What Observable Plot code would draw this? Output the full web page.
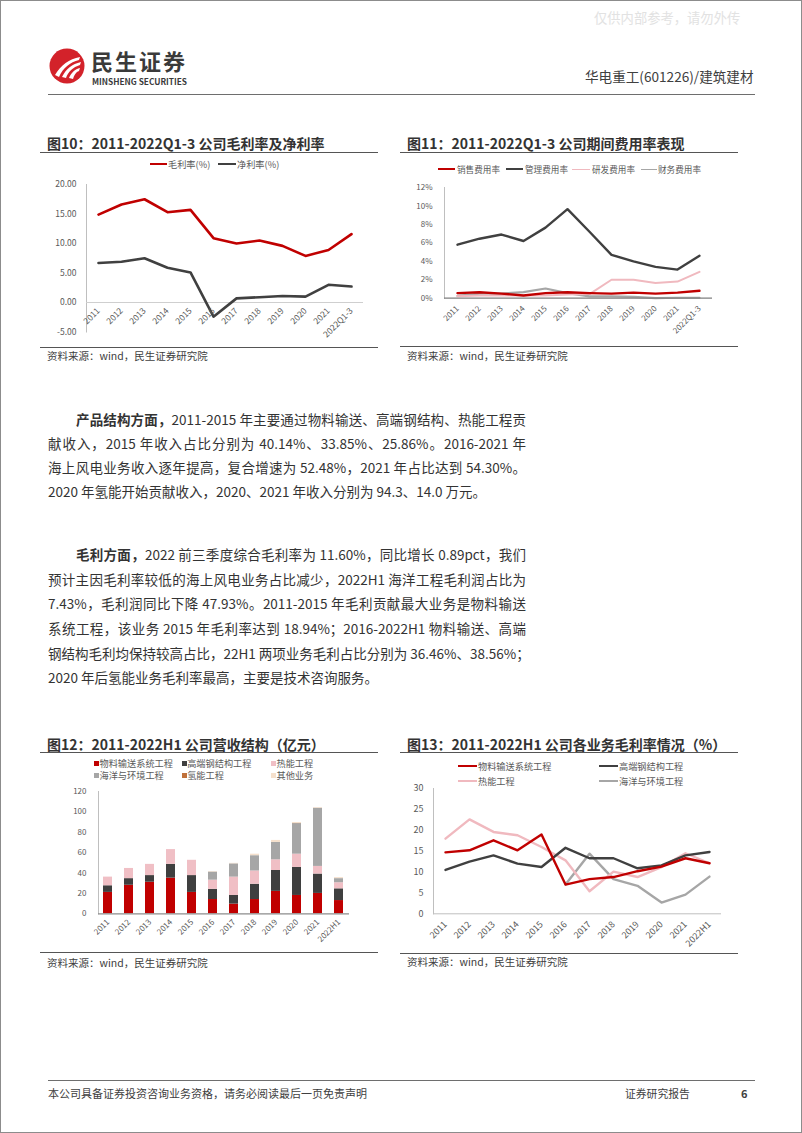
<!DOCTYPE html>
<html><head><meta charset="utf-8">
<script src="https://cdn.jsdelivr.net/npm/d3@7"></script>
<script src="https://cdn.jsdelivr.net/npm/@observablehq/plot@0.6"></script>
<style>
html,body{margin:0;padding:0}
body{width:802px;height:1133px;position:relative;background:#fff;font-family:"Noto Sans CJK SC","Noto Sans",sans-serif;color:#404040;overflow:hidden}
.a{position:absolute;white-space:nowrap;line-height:1}
.ttl{font-weight:bold;font-size:14px;color:#333;font-family:"Noto Sans CJK SC",sans-serif}
.hr{position:absolute;height:0;border-top:1.5px solid #555}
.src{font-size:10.5px;color:#404040}
.lg{font-size:9.2px;color:#595959}
.body{position:absolute;font-size:13.5px;line-height:1;color:#333;white-space:nowrap;text-align:justify;text-align-last:justify}
.body.last{text-align:left;text-align-last:left}
.sw{position:absolute;height:0}
.sq{position:absolute;width:5px;height:5px}
svg{overflow:visible}
</style></head>
<body>
<script>
// ---------- DATA ----------
const years10 = ["2011","2012","2013","2014","2015","2016","2017","2018","2019","2020","2021","2022Q1-3"];
const grossMargin = [14.9,16.6,17.5,15.3,15.7,10.9,10.0,10.5,9.6,7.9,8.9,11.6];
const netMargin = [6.7,6.9,7.5,5.9,5.1,-2.4,0.7,0.9,1.1,1.0,3.0,2.7];
const ticks10 = [-5,0,5,10,15,20];

const years11 = years10;
const salesRate = [0.55,0.65,0.5,0.3,0.55,0.65,0.55,0.5,0.6,0.5,0.6,0.8];
const adminRate = [5.8,6.45,6.9,6.2,7.65,9.65,7.2,4.7,4.0,3.4,3.1,4.6];
const rdRate = [0.2,0.3,0.3,0.3,0.3,0.4,0.45,2.0,2.0,1.65,1.8,2.85];
const finRate = [0.25,0.5,0.5,0.65,1.05,0.55,0.2,0.2,0.15,0.0,0.05,0.05];
const ticks11 = [0,2,4,6,8,10,12];

const years12 = ["2011","2012","2013","2014","2015","2016","2017","2018","2019","2020","2021","2022H1"];
const series12 = ["物料输送系统工程","高端钢结构工程","热能工程","海洋与环境工程","氢能工程","其他业务"];
const conveying = [21,28,31,35,21,14,9.5,14,22,18,20,13];
const steel = [6.5,6.5,6.5,13.5,16.5,10,8.5,15,20.5,27.5,19,11.5];
const thermal = [8.5,10,11,14.5,15,9,18,13,10.5,13,7.5,6];
const marine = [0,0,0,0,0,8,13,15,17,30,57,4];
const hydrogen = [0,0,0,0,0,0,0,0,0,0.1,0.1,0];
const otherBiz = [0,0,0,0,0,0.5,0.5,1.5,2,1,0.5,1];
const ticks12 = [0,20,40,60,80,100,120];

const years13 = years12;
const gmConveying = [14.7,15.2,17.6,15.2,19.0,7.0,8.3,8.8,10.2,11.3,13.3,12.1];
const gmSteel = [10.5,12.5,14.0,12.0,11.2,15.8,13.3,13.3,10.9,11.6,14.0,14.8];
const gmThermal = [18.0,22.6,19.6,18.8,16.0,12.8,5.4,10.1,8.8,11.2,14.5,12.1];
const gmMarine = [null,null,null,null,null,7.0,14.4,8.3,6.7,2.7,4.6,8.9];
const ticks13 = [0,5,10,15,20,25,30];

// ---------- COLORS / HELPERS ----------
const RED="#C00000", DARK="#404040", PINK="#F0B9BF", GRAY="#A6A6A6";
const FONT='"Noto Sans CJK SC","Noto Sans",sans-serif';
function put(html, cls, left, top, extra){
  const d=document.createElement("div"); d.className=cls; d.innerHTML=html;
  d.style.left=left+"px"; d.style.top=top+"px";
  if(extra) Object.assign(d.style, extra);
  document.body.appendChild(d); return d;
}
function hr(x1,x2,y,color,w){ const d=put("","hr",x1,y,{width:(x2-x1)+"px"}); if(color) d.style.borderTopColor=color; if(w) d.style.borderTopWidth=w+"px"; }
function swatch(x,y,w,color,th){ put("","sw",x,y-th/2,{width:w+"px",borderTop:th+"px solid "+color}); }
function sq(x,y,color){ put("","sq",x,y-2.5,{background:color}); }
function mount(svg,left,top){ svg.style.position="absolute"; svg.style.left=left+"px"; svg.style.top=top+"px"; document.body.appendChild(svg); }
function centerText(t,cls,left,cy,extra){ const d=put(t,cls,left,0,extra); d.style.top=(cy - d.offsetHeight/2)+"px"; return d; }

// ---------- PAGE FRAME / HEADER ----------
put("","a",0,0,{width:"802px",height:"1133px",boxSizing:"border-box",border:"1px solid #8c8c8c"});
centerText("仅供内部参考，请勿外传","a",594,17,{fontSize:"13.3px",color:"#e2e2e2"});
put('<svg width="36" height="36" viewBox="0 0 36 36"><circle cx="18" cy="18" r="17.5" fill="#D3222A"/><path d="M6 27 C12 17,20 11,31 9 L30 12 C21 14,14 20,10 29 Z" fill="#fff"/><path d="M13 29 C17 21,23 16,32 14 L31 17 C24 19,19 24,17 30 Z" fill="#fff"/><path d="M20 30 C22 25,26 21,31 20 L30 23 C27 24,25 27,24 31 Z" fill="#fff"/></svg>',"a",49,48);
centerText("民生证券","a",91,60,{fontSize:"22px",fontWeight:"bold",color:"#3a3a3a",letterSpacing:"2px",lineHeight:"22px",height:"22px"});
centerText("MINSHENG SECURITIES","a",92,81,{fontSize:"8.3px",fontWeight:"bold",color:"#3a3a3a",lineHeight:"9px",height:"9px"});
centerText("华电重工(601226)/建筑建材","a",585,77,{fontSize:"13.6px",color:"#404040"});
hr(48,755,94,"#6e6e6e",1.5);

// ---------- FIG 10 ----------
centerText("图10：2011-2022Q1-3 公司毛利率及净利率","a ttl",47,143);
hr(40,378,152,"#555",1.3);
swatch(150,164.3,17,RED,2.5); centerText("毛利率(%)","a lg",168,164.3);
swatch(218,164.3,18,DARK,2.5); centerText("净利率(%)","a lg",237,164.3);
const d10 = years10.map((x,i)=>({x, g: grossMargin[i], n: netMargin[i]}));
mount(Plot.plot({
  width:340,height:200,marginLeft:46,marginRight:17,marginTop:24,marginBottom:28.5,
  style:{fontFamily:FONT,fontSize:"8.5px",color:"#595959",background:"transparent",overflow:"visible"},
  x:{type:"point",domain:years10,padding:0.5,axis:null},
  y:{domain:[-5,20]},
  marks:[
    Plot.frame({anchor:"left",stroke:"#bfbfbf"}),
    Plot.ruleY([0],{stroke:"#cfcfcf"}),
    Plot.axisY({ticks:ticks10,tickFormat:d=>d.toFixed(2),tickSize:0,tickPadding:10,label:null,fill:"#595959"}),
    Plot.line(d10,{x:"x",y:"g",stroke:RED,strokeWidth:2.6}),
    Plot.line(d10,{x:"x",y:"n",stroke:DARK,strokeWidth:2.6}),
    Plot.text(years10,{x:d=>d,y:0,text:d=>d,rotate:-45,textAnchor:"end",lineAnchor:"middle",dy:7,fill:"#595959"})
  ]
}),40,160);
hr(40,378,346.5,"#555",1.3);
centerText("资料来源：wind，民生证券研究院","a src",47,356);

// ---------- FIG 11 ----------
centerText("图11：2011-2022Q1-3 公司期间费用率表现","a ttl",407,143);
hr(400,738,152,"#555",1.3);
swatch(438,169.3,17,RED,2.2); centerText("销售费用率","a lg",457,169.3,{fontSize:"8.6px"});
swatch(506,169.3,17,DARK,2.2); centerText("管理费用率","a lg",525,169.3,{fontSize:"8.6px"});
swatch(572,169.3,18,PINK,1.5); centerText("研发费用率","a lg",592,169.3,{fontSize:"8.6px"});
swatch(641,169.3,16,GRAY,1.5); centerText("财务费用率","a lg",658,169.3,{fontSize:"8.6px"});
const d11 = years11.map((x,i)=>({x, s: salesRate[i], a: adminRate[i], r: rdRate[i], f: finRate[i]}));
mount(Plot.plot({
  width:340,height:190,marginLeft:44,marginRight:28,marginTop:22,marginBottom:57.3,
  style:{fontFamily:FONT,fontSize:"8px",color:"#595959",background:"transparent",overflow:"visible"},
  x:{type:"point",domain:years11,padding:0.5,axis:null},
  y:{domain:[0,12]},
  marks:[
    Plot.frame({anchor:"left",stroke:"#bfbfbf"}),
    Plot.axisY({ticks:ticks11,tickFormat:d=>d+"%",tickSize:0,tickPadding:12,label:null,fill:"#595959"}),
    Plot.line(d11,{x:"x",y:"f",stroke:GRAY,strokeWidth:2.2}),
    Plot.line(d11,{x:"x",y:"r",stroke:PINK,strokeWidth:2}),
    Plot.line(d11,{x:"x",y:"a",stroke:DARK,strokeWidth:2.4}),
    Plot.line(d11,{x:"x",y:"s",stroke:RED,strokeWidth:2.4}),
    Plot.ruleY([0],{stroke:"#7f7f7f",strokeWidth:1.2}),
    Plot.text(years11,{x:d=>d,frameAnchor:"bottom",text:d=>d,rotate:-45,textAnchor:"end",lineAnchor:"middle",dy:9,fill:"#595959"})
  ]
}),400,165);
hr(400,738,345.5,"#555",1.3);
centerText("资料来源：wind，民生证券研究院","a src",407,356);

// ---------- BODY TEXT ----------
const para1 = [
  "<b>产品结构方面，</b>2011-2015 年主要通过物料输送、高端钢结构、热能工程贡",
  "献收入，2015 年收入占比分别为 40.14%、33.85%、25.86%。2016-2021 年",
  "海上风电业务收入逐年提高，复合增速为 52.48%，2021 年占比达到 54.30%。",
  "2020 年氢能开始贡献收入，2020、2021 年收入分别为 94.3、14.0 万元。"
];
const para2 = [
  "<b>毛利方面，</b>2022 前三季度综合毛利率为 11.60%，同比增长 0.89pct，我们",
  "预计主因毛利率较低的海上风电业务占比减少，2022H1 海洋工程毛利润占比为",
  "7.43%，毛利润同比下降 47.93%。2011-2015 年毛利贡献最大业务是物料输送",
  "系统工程，该业务 2015 年毛利率达到 18.94%；2016-2022H1 物料输送、高端",
  "钢结构毛利均保持较高占比，22H1 两项业务毛利占比分别为 36.46%、38.56%；",
  "2020 年后氢能业务毛利率最高，主要是技术咨询服务。"
];
function para(lines, y0, step){
  lines.forEach((t,i)=>{
    const last = i===lines.length-1;
    const left = i===0?76:48;
    const d = put(t, "body"+(last?" last":""), left, 0, {width:(526-left)+"px"});
    d.style.top = (y0 + i*step - d.offsetHeight/2)+"px";
  });
}
para(para1, 420, 23.9);
para(para2, 555, 24.65);

// ---------- FIG 12 ----------
centerText("图12：2011-2022H1 公司营收结构（亿元）","a ttl",47,744);
hr(40,378,752,"#555",1.3);
const colors12 = [RED,"#3F3F3F","#F0BFC5","#A6A6A6","#C0703A","#F5E0CC"];
const lgPos12 = [[94,763.3],[181.7,763.3],[271,763.3],[94,775.7],[181.7,775.7],[271,775.7]];
series12.forEach((s,k)=>{ const [x,y]=lgPos12[k]; sq(x,y,colors12[k]); centerText(s,"a lg",x+5.5,y); });
const values12 = [conveying,steel,thermal,marine,hydrogen,otherBiz];
const d12 = series12.flatMap((s,k)=>years12.map((x,i)=>({x,s,v:values12[k][i]})));
mount(Plot.plot({
  width:330,height:172,marginLeft:58,marginRight:21,marginTop:11,marginBottom:38.7,
  style:{fontFamily:FONT,fontSize:"8px",color:"#595959",background:"transparent",overflow:"visible"},
  x:{type:"band",domain:years12,paddingInner:0.55,paddingOuter:0.2,axis:null},
  y:{domain:[0,120]},
  color:{domain:series12,range:colors12},
  marks:[
    Plot.frame({anchor:"left",stroke:"#bfbfbf"}),
    Plot.axisY({ticks:ticks12,tickSize:0,tickPadding:12,label:null,fill:"#595959"}),
    Plot.barY(d12,{x:"x",y:"v",fill:"s"}),
    Plot.ruleY([0],{stroke:"#8c8c8c",strokeWidth:1.2}),
    Plot.text(years12,{x:d=>d,frameAnchor:"bottom",text:d=>d,rotate:-45,textAnchor:"end",lineAnchor:"middle",dy:7,fill:"#595959"})
  ]
}),40,780);
hr(40,378,952,"#555",1.3);
centerText("资料来源：wind，民生证券研究院","a src",47,963);

// ---------- FIG 13 ----------
centerText("图13：2011-2022H1 公司各业务毛利率情况（%）","a ttl",407,744);
hr(400,738,752,"#555",1.3);
const names13 = ["物料输送系统工程","高端钢结构工程","热能工程","海洋与环境工程"];
const colors13 = [RED,DARK,PINK,GRAY];
const lgPos13 = [[458,766],[599,766],[458,781],[599,781]];
names13.forEach((s,k)=>{ const [x,y]=lgPos13[k]; swatch(x,y,19,colors13[k],2.5); centerText(s,"a lg",x+20,y); });
const d13 = years13.map((x,i)=>({x, c:gmConveying[i], st:gmSteel[i], th:gmThermal[i], m:gmMarine[i]}));
mount(Plot.plot({
  width:330,height:175,marginLeft:33,marginRight:9,marginTop:13,marginBottom:36.7,
  style:{fontFamily:FONT,fontSize:"9px",color:"#595959",background:"transparent",overflow:"visible"},
  x:{type:"point",domain:years13,padding:0.5,axis:null},
  y:{domain:[0,30]},
  marks:[
    Plot.frame({anchor:"left",stroke:"#bfbfbf"}),
    Plot.ruleY([0],{stroke:"#bfbfbf"}),
    Plot.axisY({ticks:ticks13,tickSize:0,tickPadding:10,label:null,fill:"#595959"}),
    Plot.line(d13,{x:"x",y:"m",stroke:GRAY,strokeWidth:2.4}),
    Plot.line(d13,{x:"x",y:"th",stroke:PINK,strokeWidth:2.4}),
    Plot.line(d13,{x:"x",y:"st",stroke:DARK,strokeWidth:2.4}),
    Plot.line(d13,{x:"x",y:"c",stroke:RED,strokeWidth:2.4}),
    Plot.text(years13,{x:d=>d,frameAnchor:"bottom",text:d=>d,rotate:-45,textAnchor:"end",lineAnchor:"middle",dy:9,fill:"#595959"})
  ]
}),400,775);
hr(400,738,953,"#555",1.3);
centerText("资料来源：wind，民生证券研究院","a src",407,962);

// ---------- FOOTER ----------
hr(48,755,1080,"#6e6e6e",1.5);
centerText("本公司具备证券投资咨询业务资格，请务必阅读最后一页免责声明","a",48,1093,{fontSize:"11px",color:"#404040"});
centerText("证券研究报告","a",625,1093,{fontSize:"10.8px",color:"#404040"});
centerText("6","a",741,1093,{fontSize:"11px",fontWeight:"bold",color:"#404040"});
</script>
</body></html>
